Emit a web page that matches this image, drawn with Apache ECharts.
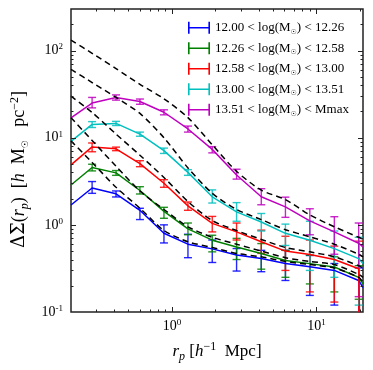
<!DOCTYPE html>
<html><head><meta charset="utf-8">
<script src="https://cdn.jsdelivr.net/npm/echarts@6/dist/echarts.min.js"></script>
<style>html,body{margin:0;padding:0;background:#fff}#c{width:373px;height:370px}</style>
</head><body><div id="c"></div>
<script>
// ---------- data ----------
const rp = [0.28, 0.41, 0.60, 0.88, 1.29, 1.90, 2.80, 4.15, 6.10, 9.00, 13.3, 19.6];
const modelX = [0.2, 0.28, 0.41, 0.60, 0.88, 1.29, 1.90, 2.80, 4.15, 6.10, 9.00, 13.3, 19.6, 21];
const binLow = ['12.00', '12.26', '12.58', '13.00', '13.51'];
const binHigh = ['12.26', '12.58', '13.00', '13.51', 'Mmax'];
const binColors = ['#0000ff', '#008000', '#ff0000', '#00bfbf', '#bf00bf'];

const ptsBlue = [2.72, 2.27, 1.35, 0.81, 0.60, 0.52, 0.415, 0.40, 0.37, 0.30, 0.24, 0.20];
const errBlue = [0.42, 0.18, 0.20, 0.19, 0.18, 0.15, 0.12, 0.11, 0.14, 0.145, 0.12, 0.12];
const ptsGreen = [4.56, 3.95, 2.50, 1.39, 0.91, 0.625, 0.55, 0.46, 0.38, 0.33, 0.30, 0.24];
const errGreen = [0.40, 0.25, 0.24, 0.20, 0.14, 0.135, 0.15, 0.15, 0.13, 0.12, 0.13, 0.10];
const ptsRed = [7.80, 7.45, 5.05, 3.00, 1.65, 1.04, 0.86, 0.67, 0.52, 0.42, 0.35, 0.30];
const errRed = [0.90, 0.35, 0.40, 0.30, 0.18, 0.21, 0.19, 0.20, 0.22, 0.25, 0.22, 0.35];
const ptsCyan = [14.2, 14.6, 11.0, 7.1, 4.0, 2.15, 1.45, 1.10, 0.80, 0.70, 0.55, 0.42];
const errCyan = [1.1, 0.8, 0.6, 0.5, 0.3, 0.37, 0.35, 0.25, 0.22, 0.40, 0.30, 0.30];
const ptsMagenta = [25.5, 29.0, 26.0, 19.6, 12.6, 7.3, 3.85, 2.15, 1.65, 1.15, 0.85, 0.60];
const errMagenta = [3.5, 2.0, 1.8, 1.3, 1.0, 0.6, 0.5, 0.45, 0.43, 0.38, 0.39, 0.45];

const modelBlue = [1.69, 2.65, 2.27, 1.47, 0.80, 0.60, 0.53, 0.45, 0.41, 0.36, 0.33, 0.30, 0.23, 0.19];
const modelGreen = [2.87, 4.55, 3.95, 2.48, 1.43, 0.90, 0.667, 0.557, 0.468, 0.39, 0.359, 0.328, 0.25, 0.21];
const modelRed = [4.88, 7.85, 7.45, 5.05, 3.0, 1.65, 1.04, 0.83, 0.64, 0.50, 0.456, 0.40, 0.314, 0.001];
const modelCyan = [9.06, 14.2, 14.6, 11.0, 7.1, 4.0, 2.10, 1.41, 1.08, 0.80, 0.667, 0.534, 0.41, 0.36];
const modelMagenta = [16.9, 25.0, 29.0, 26.0, 19.6, 12.6, 7.35, 3.74, 2.10, 1.61, 1.11, 0.83, 0.615, 0.56];

const dashBlue = [9.2, 5.2, 2.7, 1.55, 0.86, 0.64, 0.55, 0.47, 0.43, 0.38, 0.35, 0.32, 0.25, 0.22];
const dashGreen = [17, 9.3, 4.7, 2.45, 1.5, 0.95, 0.72, 0.6, 0.5, 0.42, 0.38, 0.35, 0.27, 0.25];
const dashRed = [30, 19.5, 11.0, 6.3, 3.5, 1.85, 1.12, 0.86, 0.68, 0.55, 0.49, 0.43, 0.34, 0.32];
const dashCyan = [61, 43, 29, 19, 10.0, 4.5, 2.3, 1.5, 1.15, 0.88, 0.73, 0.6, 0.46, 0.43];
const dashMagenta = [132, 93, 62, 41, 28, 17, 8.3, 4.1, 2.5, 1.95, 1.3, 0.95, 0.72, 0.68];

const xMajorTicks = [1, 10];
const yMajorTicks = [0.1, 1, 10, 100];
const xRange = [0.2, 21];
const yRange = [0.1, 300];

// ---------- build ----------
const serif = 'Liberation Serif';
const pts = [ptsBlue, ptsGreen, ptsRed, ptsCyan, ptsMagenta];
const errs = [errBlue, errGreen, errRed, errCyan, errMagenta];
const models = [modelBlue, modelGreen, modelRed, modelCyan, modelMagenta];
const dashes = [dashBlue, dashGreen, dashRed, dashCyan, dashMagenta];
const names = binLow.map((lo, i) => lo + ' < log(M\u2609) < ' + binHigh[i]);

function renderErr(params, api) {
  const cs = params.coordSys;
  const x = api.value(0), y = api.value(1), s = api.value(2);
  const color = api.visual('color');
  const top = api.coord([x, y + s]);
  const xp = top[0];
  let yt = top[1];
  let yb, lowCap = true;
  if (y - s > 0) { yb = api.coord([x, y - s])[1]; } else { yb = cs.y + cs.height; lowCap = false; }
  if (yb > cs.y + cs.height) { yb = cs.y + cs.height; lowCap = false; }
  const hw = 4;
  const st = { stroke: color, lineWidth: 1.4, opacity: 0.85 };
  const ch = [
    { type: 'line', shape: { x1: xp, y1: yt, x2: xp, y2: yb }, style: st },
    { type: 'line', shape: { x1: xp - hw, y1: yt, x2: xp + hw, y2: yt }, style: st }
  ];
  if (lowCap) ch.push({ type: 'line', shape: { x1: xp - hw, y1: yb, x2: xp + hw, y2: yb }, style: st });
  return { type: 'group', children: ch };
}

// tick list (all four sides)
const tickData = [];
function isInside(v, r) { return v > r[0] * 1.0001 && v < r[1] * 0.9999; }
for (let d = -1; d <= 2; d++) {
  for (let m = 1; m <= 9; m++) {
    const v = m * Math.pow(10, d);
    const major = (m === 1);
    if (isInside(v, xRange)) tickData.push([v, 1, major ? 0 : 1]);
    if (isInside(v, yRange)) tickData.push([1, v, major ? 2 : 3]);
  }
}
function renderTicks(params, api) {
  const cs = params.coordSys;
  const kind = api.value(2);
  const L = (kind % 2 === 0) ? 5 : 2.5;
  const p = api.coord([api.value(0), api.value(1)]);
  const st = { stroke: '#222', lineWidth: 1 };
  if (kind < 2) {
    const x = Math.round(p[0]) + 0.5, yb = cs.y + cs.height, yt = cs.y;
    return { type: 'group', children: [
      { type: 'line', shape: { x1: x, y1: yb, x2: x, y2: yb - L }, style: st },
      { type: 'line', shape: { x1: x, y1: yt, x2: x, y2: yt + L }, style: st }] };
  } else {
    const y = Math.round(p[1]) + 0.5, xl = cs.x, xr = cs.x + cs.width;
    return { type: 'group', children: [
      { type: 'line', shape: { x1: xl, y1: y, x2: xl + L, y2: y }, style: st },
      { type: 'line', shape: { x1: xr, y1: y, x2: xr - L, y2: y }, style: st }] };
  }
}

function powLabel(v) {
  const l = Math.log10(v), e = Math.round(l);
  if (Math.abs(l - e) > 1e-6) return '';
  return '{b|10}{e|' + e + '}';
}
const tickRich = {
  b: { fontFamily: serif, fontSize: 14, color: '#000', lineHeight: 16 },
  e: { fontFamily: serif, fontSize: 9, color: '#000', verticalAlign: 'top', lineHeight: 9 }
};

const series = [];
names.forEach((nm, i) => {
  series.push({
    name: nm, type: 'custom', renderItem: renderErr, z: 3,
    itemStyle: { color: binColors[i] },
    data: rp.map((x, j) => [x, pts[i][j], errs[i][j]])
  });
});
names.forEach((nm, i) => {
  series.push({
    name: nm, type: 'line', symbol: 'none', z: 4, clip: true,
    lineStyle: { color: binColors[i], width: 1.5 },
    itemStyle: { color: binColors[i] },
    data: modelX.map((x, j) => [x, models[i][j]])
  });
});
names.forEach((nm, i) => {
  series.push({
    name: 'dash' + i, type: 'line', symbol: 'none', z: 5, clip: true, smooth: 0.25,
    lineStyle: { color: '#000', width: 1.5, type: [6, 4] },
    data: modelX.map((x, j) => [x, dashes[i][j]])
  });
});
series.push({ name: 'ticks', type: 'custom', renderItem: renderTicks, z: 6, silent: true, data: tickData });

const iconPath = 'path://M0,0h1.6v12h-1.6z M0,5.2h22v1.6h-22z M20.4,0h1.6v12h-1.6z';
const xNameRich = {
  n: { fontFamily: serif, fontSize: 17, color: '#000', lineHeight: 22 },
  i: { fontFamily: serif, fontSize: 17, fontStyle: 'italic', color: '#000', lineHeight: 22 },
  s: { fontFamily: serif, fontSize: 12, fontStyle: 'italic', color: '#000', verticalAlign: 'bottom', lineHeight: 13 },
  u: { fontFamily: serif, fontSize: 12, color: '#000', verticalAlign: 'top', lineHeight: 13 }
};
const yNameRich = {
  g: { fontFamily: 'DejaVu Serif', fontSize: 18, color: '#000', lineHeight: 22 },
  n: { fontFamily: serif, fontSize: 18, color: '#000', lineHeight: 22 },
  i: { fontFamily: serif, fontSize: 18, fontStyle: 'italic', color: '#000', lineHeight: 22 },
  s: { fontFamily: serif, fontSize: 12, fontStyle: 'italic', color: '#000', verticalAlign: 'bottom', lineHeight: 13 },
  o: { fontFamily: 'DejaVu Sans', fontSize: 9, color: '#000', verticalAlign: 'bottom', lineHeight: 11 },
  u: { fontFamily: serif, fontSize: 12, color: '#000', verticalAlign: 'top', lineHeight: 13 },
  pad: { width: 18, lineHeight: 22 }
};

const option = {
  animation: false,
  backgroundColor: '#fff',
  grid: { left: 71, right: 10, top: 9, bottom: 58, show: true, borderColor: '#222', borderWidth: 1.5, backgroundColor: 'transparent' },
  legend: {
    orient: 'vertical', left: 183, top: 15, itemWidth: 22, itemHeight: 12, itemGap: 5,
    data: names.map(n => ({ name: n, icon: iconPath })),
    formatter: n => n.replace('M\u2609', 'M{s|\u2609}'),
    textStyle: {
      fontFamily: serif, fontSize: 13, color: '#000', lineHeight: 15.5,
      rich: { s: { fontFamily: 'DejaVu Sans', fontSize: 7, color: '#000', verticalAlign: 'bottom', lineHeight: 9 } }
    },
    selectedMode: false
  },
  xAxis: {
    type: 'log', logBase: 10, min: xRange[0], max: xRange[1],
    axisLine: { show: false }, axisTick: { show: false }, splitLine: { show: false },
    axisLabel: { formatter: powLabel, rich: tickRich, margin: 6, showMinLabel: false, showMaxLabel: false },
    name: '{i|r}{s|p}{n| [}{i|h}{u|\u22121}{n|  Mpc]}', nameLocation: 'middle', nameGap: 29,
    nameTextStyle: { rich: xNameRich }
  },
  yAxis: {
    type: 'log', logBase: 10, min: yRange[0], max: yRange[1],
    axisLine: { show: false }, axisTick: { show: false }, splitLine: { show: false },
    axisLabel: { formatter: powLabel, rich: tickRich, margin: 8, showMaxLabel: false },
    name: '{g|\u0394\u03a3}{n|(}{i|r}{s|p}{n|)  [}{i|h}{n|  M}{o|\u2609}{n|   pc}{u|\u22122}{n|]}{pad| }',
    nameLocation: 'middle', nameGap: 23, nameRotate: 90,
    nameTextStyle: { rich: yNameRich }
  },
  series: series
};
const chart = echarts.init(document.getElementById('c'), null, { renderer: 'canvas' });
chart.setOption(option);
</script>
</body></html>
